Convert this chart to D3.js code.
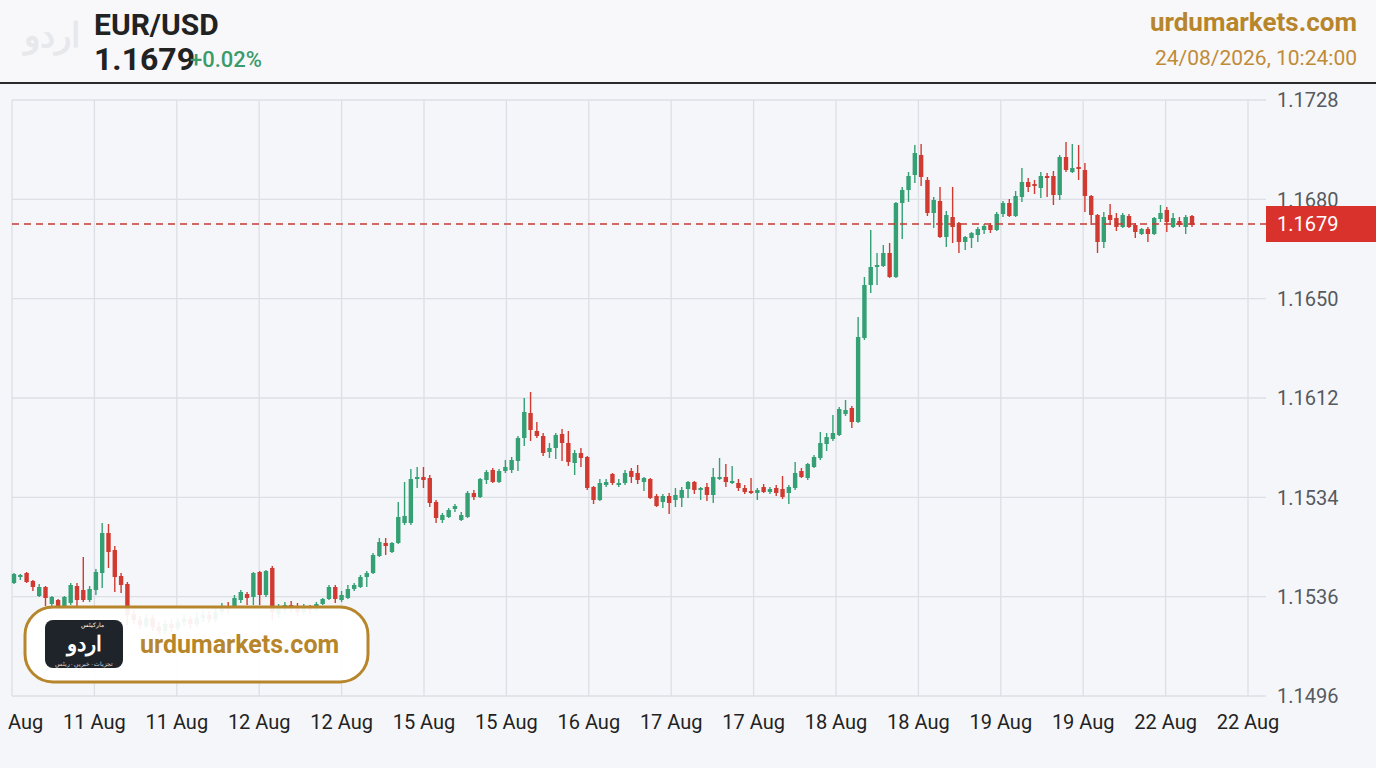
<!DOCTYPE html>
<html>
<head>
<meta charset="utf-8">
<script src="https://cdn.jsdelivr.net/npm/d3@7/dist/d3.min.js"></script>
<style>
  html, body { margin: 0; padding: 0; background: #f5f6f9; }
  svg { display: block; font-family: Roboto, "Noto Sans", sans-serif; }
</style>
</head>
<body>
<svg id="chart" width="1376" height="768"></svg>
<script>
// ---------------- DATA ----------------
const pair = "EUR/USD";
const lastPriceLabel = "1.1679";
const lastPrice = 1.1679;
const changeLabel = "+0.02%";
const brand = "urdumarkets.com";
const timestamp = "24/08/2026, 10:24:00";

const priceTickLabels = ["1.1728", "1.1680", "1.1650", "1.1612", "1.1534", "1.1536", "1.1496"];
// first label is clipped by the left edge in the reference, only "Aug" is visible
const timeTickLabels = ["Aug", "11 Aug", "11 Aug", "12 Aug", "12 Aug", "15 Aug", "15 Aug", "16 Aug",
                        "17 Aug", "17 Aug", "18 Aug", "18 Aug", "19 Aug", "19 Aug", "22 Aug", "22 Aug"];

const opens = [
  1.15354, 1.15378, 1.15394, 1.15362, 1.15302, 1.15338, 1.15270, 1.15286, 1.15262, 1.15274,
  1.15342, 1.15326, 1.15286, 1.15326, 1.15394, 1.15554, 1.15486, 1.15382, 1.15350, 1.15230,
  1.15206, 1.15182, 1.15214, 1.15178, 1.15162, 1.15190, 1.15174, 1.15198, 1.15210, 1.15190,
  1.15214, 1.15226, 1.15210, 1.15238, 1.15258, 1.15262, 1.15286, 1.15310, 1.15298, 1.15398,
  1.15306, 1.15414, 1.15230, 1.15246, 1.15266, 1.15254, 1.15238, 1.15258, 1.15246, 1.15270,
  1.15290, 1.15338, 1.15286, 1.15294, 1.15330, 1.15338, 1.15378, 1.15394, 1.15462, 1.15514,
  1.15478, 1.15514, 1.15594, 1.15594, 1.15770, 1.15778, 1.15774, 1.15678, 1.15606, 1.15618,
  1.15650, 1.15606, 1.15618, 1.15714, 1.15698, 1.15766, 1.15806, 1.15758, 1.15802, 1.15806,
  1.15842, 1.15934, 1.16034, 1.15962, 1.15942, 1.15878, 1.15894, 1.15950, 1.15914, 1.15834,
  1.15874, 1.15858, 1.15738, 1.15686, 1.15746, 1.15790, 1.15746, 1.15754, 1.15802, 1.15794,
  1.15758, 1.15770, 1.15702, 1.15678, 1.15702, 1.15686, 1.15694, 1.15730, 1.15758, 1.15726,
  1.15738, 1.15706, 1.15770, 1.15778, 1.15754, 1.15754, 1.15734, 1.15722, 1.15714, 1.15738,
  1.15718, 1.15734, 1.15730, 1.15714, 1.15734, 1.15802, 1.15774, 1.15818, 1.15854, 1.15910,
  1.15930, 1.15946, 1.16030, 1.16054, 1.15998, 1.16334, 1.16546, 1.16618, 1.16622, 1.16674,
  1.16578, 1.16874, 1.16926, 1.16986, 1.17066, 1.16966, 1.16834, 1.16882, 1.16738, 1.16818,
  1.16794, 1.16718, 1.16734, 1.16746, 1.16766, 1.16786, 1.16766, 1.16830, 1.16874, 1.16822,
  1.16898, 1.16958, 1.16950, 1.16934, 1.16982, 1.16982, 1.16906, 1.17058, 1.16998, 1.17018,
  1.17006, 1.16902, 1.16826, 1.16718, 1.16826, 1.16814, 1.16778, 1.16822, 1.16786, 1.16750,
  1.16770, 1.16750, 1.16810, 1.16846, 1.16778, 1.16802, 1.16778, 1.16822
];
const highs = [
  1.15394, 1.15390, 1.15398, 1.15366, 1.15350, 1.15342, 1.15302, 1.15290, 1.15302, 1.15354,
  1.15354, 1.15458, 1.15342, 1.15410, 1.15594, 1.15590, 1.15502, 1.15394, 1.15358, 1.15246,
  1.15222, 1.15230, 1.15226, 1.15198, 1.15206, 1.15210, 1.15214, 1.15230, 1.15222, 1.15238,
  1.15246, 1.15242, 1.15254, 1.15274, 1.15278, 1.15306, 1.15326, 1.15318, 1.15398, 1.15402,
  1.15406, 1.15422, 1.15270, 1.15278, 1.15282, 1.15274, 1.15270, 1.15266, 1.15278, 1.15294,
  1.15346, 1.15346, 1.15322, 1.15346, 1.15354, 1.15386, 1.15402, 1.15474, 1.15534, 1.15534,
  1.15518, 1.15678, 1.15758, 1.15810, 1.15818, 1.15818, 1.15786, 1.15686, 1.15634, 1.15654,
  1.15670, 1.15638, 1.15722, 1.15726, 1.15774, 1.15806, 1.15814, 1.15810, 1.15846, 1.15858,
  1.15942, 1.16094, 1.16118, 1.15998, 1.15954, 1.15914, 1.15954, 1.15970, 1.15962, 1.15886,
  1.15894, 1.15862, 1.15742, 1.15770, 1.15770, 1.15794, 1.15770, 1.15806, 1.15814, 1.15826,
  1.15778, 1.15774, 1.15710, 1.15710, 1.15714, 1.15734, 1.15738, 1.15762, 1.15762, 1.15738,
  1.15754, 1.15814, 1.15854, 1.15830, 1.15822, 1.15770, 1.15746, 1.15774, 1.15734, 1.15750,
  1.15738, 1.15746, 1.15782, 1.15746, 1.15838, 1.15814, 1.15834, 1.15866, 1.15958, 1.15954,
  1.16026, 1.16058, 1.16086, 1.16062, 1.16418, 1.16578, 1.16766, 1.16674, 1.16706, 1.16714,
  1.16878, 1.16938, 1.16998, 1.17106, 1.17110, 1.16978, 1.16898, 1.16938, 1.16842, 1.16938,
  1.16798, 1.16742, 1.16758, 1.16778, 1.16790, 1.16794, 1.16838, 1.16882, 1.16890, 1.16922,
  1.17014, 1.16974, 1.16966, 1.16998, 1.16994, 1.17002, 1.17066, 1.17118, 1.17110, 1.17106,
  1.17034, 1.16906, 1.16830, 1.16838, 1.16870, 1.16834, 1.16834, 1.16830, 1.16794, 1.16774,
  1.16778, 1.16818, 1.16866, 1.16858, 1.16834, 1.16818, 1.16826, 1.16826
];
const lows = [
  1.15350, 1.15366, 1.15354, 1.15322, 1.15298, 1.15262, 1.15262, 1.15250, 1.15254, 1.15266,
  1.15262, 1.15278, 1.15278, 1.15306, 1.15334, 1.15414, 1.15318, 1.15314, 1.15186, 1.15190,
  1.15170, 1.15174, 1.15162, 1.15146, 1.15150, 1.15158, 1.15162, 1.15182, 1.15174, 1.15178,
  1.15198, 1.15194, 1.15198, 1.15226, 1.15230, 1.15258, 1.15274, 1.15266, 1.15266, 1.15266,
  1.15298, 1.15206, 1.15214, 1.15230, 1.15234, 1.15222, 1.15226, 1.15230, 1.15238, 1.15266,
  1.15286, 1.15274, 1.15278, 1.15290, 1.15322, 1.15334, 1.15338, 1.15390, 1.15458, 1.15466,
  1.15474, 1.15510, 1.15586, 1.15586, 1.15734, 1.15734, 1.15658, 1.15594, 1.15594, 1.15614,
  1.15638, 1.15602, 1.15614, 1.15686, 1.15694, 1.15750, 1.15754, 1.15754, 1.15794, 1.15794,
  1.15802, 1.15902, 1.15922, 1.15934, 1.15862, 1.15854, 1.15850, 1.15842, 1.15822, 1.15786,
  1.15818, 1.15726, 1.15670, 1.15682, 1.15738, 1.15746, 1.15738, 1.15746, 1.15754, 1.15750,
  1.15722, 1.15690, 1.15658, 1.15654, 1.15630, 1.15658, 1.15658, 1.15694, 1.15710, 1.15686,
  1.15682, 1.15674, 1.15766, 1.15738, 1.15750, 1.15722, 1.15710, 1.15710, 1.15686, 1.15714,
  1.15710, 1.15702, 1.15690, 1.15670, 1.15726, 1.15774, 1.15766, 1.15814, 1.15846, 1.15882,
  1.15922, 1.15942, 1.16022, 1.15974, 1.15994, 1.16326, 1.16514, 1.16546, 1.16618, 1.16574,
  1.16574, 1.16730, 1.16878, 1.16954, 1.16942, 1.16822, 1.16774, 1.16734, 1.16698, 1.16714,
  1.16674, 1.16686, 1.16694, 1.16718, 1.16750, 1.16754, 1.16762, 1.16818, 1.16818, 1.16818,
  1.16878, 1.16918, 1.16910, 1.16894, 1.16898, 1.16866, 1.16886, 1.16998, 1.16994, 1.16966,
  1.16838, 1.16786, 1.16674, 1.16694, 1.16786, 1.16762, 1.16774, 1.16774, 1.16734, 1.16746,
  1.16718, 1.16746, 1.16798, 1.16758, 1.16774, 1.16778, 1.16750, 1.16778
];
const closes = [
  1.15390, 1.15386, 1.15358, 1.15338, 1.15338, 1.15294, 1.15298, 1.15262, 1.15298, 1.15346,
  1.15286, 1.15286, 1.15330, 1.15398, 1.15554, 1.15478, 1.15378, 1.15346, 1.15226, 1.15206,
  1.15186, 1.15214, 1.15178, 1.15162, 1.15190, 1.15174, 1.15198, 1.15210, 1.15190, 1.15214,
  1.15226, 1.15210, 1.15238, 1.15258, 1.15250, 1.15294, 1.15318, 1.15294, 1.15394, 1.15306,
  1.15402, 1.15238, 1.15254, 1.15266, 1.15250, 1.15238, 1.15258, 1.15246, 1.15270, 1.15290,
  1.15338, 1.15290, 1.15306, 1.15330, 1.15346, 1.15378, 1.15394, 1.15466, 1.15518, 1.15502,
  1.15514, 1.15618, 1.15622, 1.15770, 1.15778, 1.15766, 1.15674, 1.15614, 1.15626, 1.15646,
  1.15662, 1.15626, 1.15714, 1.15698, 1.15770, 1.15798, 1.15758, 1.15802, 1.15818, 1.15846,
  1.15934, 1.16038, 1.15966, 1.15942, 1.15874, 1.15894, 1.15946, 1.15914, 1.15838, 1.15874,
  1.15854, 1.15734, 1.15686, 1.15754, 1.15758, 1.15754, 1.15754, 1.15794, 1.15778, 1.15766,
  1.15774, 1.15694, 1.15662, 1.15702, 1.15674, 1.15706, 1.15726, 1.15758, 1.15726, 1.15734,
  1.15706, 1.15778, 1.15778, 1.15758, 1.15762, 1.15734, 1.15718, 1.15714, 1.15726, 1.15718,
  1.15730, 1.15714, 1.15698, 1.15738, 1.15794, 1.15778, 1.15830, 1.15858, 1.15914, 1.15938,
  1.15954, 1.16050, 1.16046, 1.15998, 1.16338, 1.16546, 1.16618, 1.16626, 1.16674, 1.16578,
  1.16874, 1.16926, 1.16982, 1.17074, 1.16978, 1.16834, 1.16886, 1.16738, 1.16826, 1.16778,
  1.16718, 1.16738, 1.16754, 1.16770, 1.16782, 1.16766, 1.16830, 1.16874, 1.16822, 1.16902,
  1.16958, 1.16938, 1.16942, 1.16982, 1.16974, 1.16906, 1.17058, 1.17006, 1.17014, 1.17010,
  1.16902, 1.16826, 1.16718, 1.16818, 1.16806, 1.16778, 1.16826, 1.16778, 1.16758, 1.16770,
  1.16750, 1.16814, 1.16834, 1.16798, 1.16814, 1.16786, 1.16818, 1.16786
];

// ---------------- LAYOUT ----------------
const W = 1376, H = 768;
const plot = { left: 12, right: 1250, top: 100, bottom: 696 };
const colUp = "#34a074", colDown = "#d03a30", gold = "#b7862c";

const svg = d3.select("#chart");
svg.append("rect").attr("width", W).attr("height", H).attr("fill", "#f5f6f9");
svg.append("rect").attr("width", W).attr("height", 83).attr("fill", "#f8f8fa");

const candles = opens.map((o, i) => ({ i, o, h: highs[i], l: lows[i], c: closes[i] }));

const x = d3.scaleLinear().domain([0, candles.length - 1]).range([14, 1192]);
const y = d3.scaleLinear().domain([1.14902, 1.17286]).range([plot.bottom, plot.top]);
const yTick = d3.scalePoint().domain(priceTickLabels).range([plot.top, plot.bottom]);
const xTick = d3.scalePoint().domain(d3.range(timeTickLabels.length)).range([12, 1248]);

// Grid
const grid = svg.append("g").attr("stroke", "#dcdfe5").attr("stroke-width", 1.3);
grid.selectAll("line.h").data(priceTickLabels).join("line")
  .attr("x1", plot.left).attr("x2", 1266)
  .attr("y1", d => yTick(d)).attr("y2", d => yTick(d));
grid.selectAll("line.v").data(d3.range(timeTickLabels.length)).join("line")
  .attr("x1", d => xTick(d)).attr("x2", d => xTick(d))
  .attr("y1", plot.top).attr("y2", plot.bottom);

// Right axis labels
svg.append("g").selectAll("text").data(priceTickLabels).join("text")
  .attr("x", 1277).attr("y", d => yTick(d)).attr("dy", "0.36em")
  .attr("font-size", 20).attr("fill", "#555a60").text(d => d);

// Bottom axis labels
svg.append("g").selectAll("text").data(timeTickLabels).join("text")
  .attr("x", (d, i) => i === 0 ? xTick(i) - 4 : xTick(i)).attr("y", 729)
  .attr("text-anchor", (d, i) => i === 0 ? "start" : "middle")
  .attr("font-size", 20).attr("fill", "#222")
  .text(d => d);

// Candles
const cg = svg.append("g");
const cs = cg.selectAll("g").data(candles).join("g");
cs.append("line")
  .attr("x1", d => x(d.i)).attr("x2", d => x(d.i))
  .attr("y1", d => y(d.h)).attr("y2", d => y(d.l))
  .attr("stroke", d => d.c >= d.o ? colUp : colDown).attr("stroke-width", 1.4);
cs.append("rect")
  .attr("x", d => x(d.i) - 2.2).attr("width", 4.4)
  .attr("y", d => y(Math.max(d.o, d.c)))
  .attr("height", d => Math.max(1.6, Math.abs(y(d.o) - y(d.c))))
  .attr("fill", d => d.c >= d.o ? colUp : colDown);

// Current price line and label
svg.append("line")
  .attr("x1", plot.left).attr("x2", 1266)
  .attr("y1", y(lastPrice)).attr("y2", y(lastPrice))
  .attr("stroke", "#c53a31").attr("stroke-width", 1.6)
  .attr("stroke-dasharray", "7,5");
svg.append("rect").attr("x", 1266).attr("y", y(lastPrice) - 18)
  .attr("width", 110).attr("height", 36).attr("fill", "#d9322c");
svg.append("text").attr("x", 1277).attr("y", y(lastPrice)).attr("dy", "0.36em")
  .attr("font-size", 20).attr("fill", "#fff").text(lastPriceLabel);

// Header
svg.append("line").attr("x1", 0).attr("x2", W).attr("y1", 83).attr("y2", 83)
  .attr("stroke", "#2a2a2a").attr("stroke-width", 2);
svg.append("text").attr("x", 52).attr("y", 47).attr("font-size", 34)
  .attr("text-anchor", "middle")
  .attr("font-family", "'Noto Sans', sans-serif").attr("font-weight", 700)
  .attr("fill", "#e6e8ec").text("اردو");
svg.append("text").attr("x", 94).attr("y", 35).attr("font-size", 30)
  .attr("font-weight", 700).attr("fill", "#222").text(pair);
svg.append("text").attr("x", 94).attr("y", 70).attr("font-size", 32)
  .attr("font-weight", 700).attr("fill", "#222").text(lastPriceLabel);
svg.append("text").attr("x", 190).attr("y", 67).attr("font-size", 22)
  .attr("font-weight", 500).attr("fill", "#3a9b6c").text(changeLabel);
svg.append("text").attr("x", 1357).attr("y", 31).attr("text-anchor", "end")
  .attr("font-size", 26).attr("font-weight", 700).attr("fill", gold).text(brand);
svg.append("text").attr("x", 1357).attr("y", 65).attr("text-anchor", "end")
  .attr("font-size", 21).attr("fill", "#c08b38").text(timestamp);

// Badge
svg.append("rect").attr("x", 25).attr("y", 607).attr("width", 343).attr("height", 75)
  .attr("rx", 28).attr("fill", "rgba(255,255,255,0.93)")
  .attr("stroke", gold).attr("stroke-width", 3);
svg.append("rect").attr("x", 45).attr("y", 620).attr("width", 78).attr("height", 48)
  .attr("rx", 8).attr("fill", "#1f242b");
svg.append("text").attr("x", 84).attr("y", 651).attr("text-anchor", "middle")
  .attr("font-size", 21).attr("font-weight", 700).attr("fill", "#fff")
  .attr("font-family", "'Noto Sans', sans-serif").text("اردو");
svg.append("text").attr("x", 92).attr("y", 627).attr("text-anchor", "middle")
  .attr("font-size", 6).attr("fill", "#fff")
  .attr("font-family", "'Noto Sans', sans-serif").text("مارکیٹس");
svg.append("text").attr("x", 84).attr("y", 666).attr("text-anchor", "middle")
  .attr("font-size", 5.5).attr("fill", "#ddd")
  .attr("font-family", "'Noto Sans', sans-serif").text("تجزیات · خبریں · ریٹس");
svg.append("text").attr("x", 140).attr("y", 653).attr("font-size", 25)
  .attr("font-weight", 700).attr("fill", gold).text(brand);
</script>
</body>
</html>
